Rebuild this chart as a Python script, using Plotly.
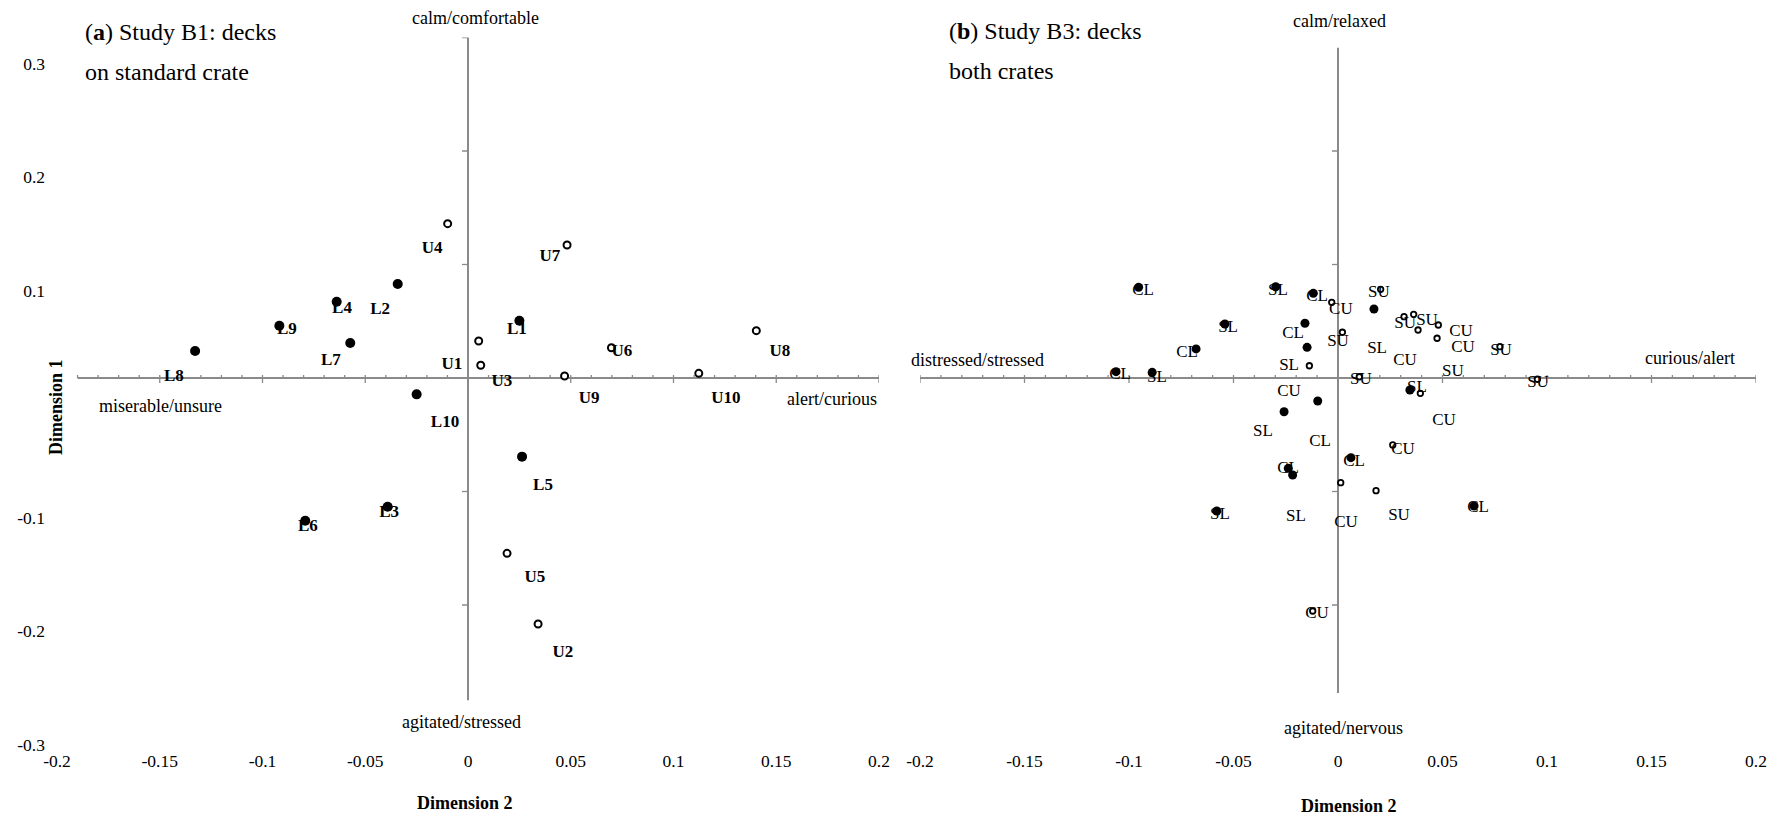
import plotly.graph_objects as go

W, H = 1783, 819

# ---------------- Panel (a): Study B1, decks on standard crate ----------------
a_low_names = ["L1", "L2", "L3", "L4", "L5", "L6", "L7", "L8", "L9", "L10"]
a_low_dim2 = [0.025, -0.0342, -0.0391, -0.0639, 0.0263, -0.0792, -0.0573, -0.1328, -0.0918, -0.025]
a_low_dim1 = [0.0505, 0.0828, -0.1134, 0.0672, -0.0693, -0.1257, 0.0308, 0.0238, 0.0461, -0.0144]
a_low_label_dim2 = [0.0238, -0.0428, -0.0384, -0.0613, 0.0365, -0.0779, -0.0667, -0.1431, -0.0881, -0.0112]
a_low_label_dim1 = [0.0423, 0.0599, -0.1189, 0.0608, -0.0952, -0.1313, 0.0150, 0.0009, 0.0423, -0.0396]

a_up_names = ["U1", "U2", "U3", "U4", "U5", "U6", "U7", "U8", "U9", "U10"]
a_up_dim2 = [0.0052, 0.0341, 0.0062, -0.0099, 0.019, 0.0698, 0.0482, 0.1403, 0.047, 0.1123]
a_up_dim1 = [0.0326, -0.2167, 0.0112, 0.136, -0.1545, 0.0267, 0.1172, 0.0417, 0.0018, 0.0041]
a_up_label_dim2 = [-0.0078, 0.0462, 0.0165, -0.0175, 0.0326, 0.0749, 0.0399, 0.1518, 0.0589, 0.1255]
a_up_label_dim1 = [0.0115, -0.2423, -0.0035, 0.1137, -0.1762, 0.0229, 0.1066, 0.0229, -0.0185, -0.0185]

# ---------------- Panel (b): Study B3, decks on both crates ----------------
b_low_dim2 = [-0.0954, -0.0298, -0.0118, -0.0541, -0.0158, -0.0679, -0.0148, -0.1062, -0.0889,
              0.0172, -0.0097, -0.0258, 0.0344, 0.0062, -0.0238, -0.0217, 0.0651, -0.0580]
b_low_dim1 = [0.0799, 0.0804, 0.0746, 0.0476, 0.0482, 0.0256, 0.0270, 0.0056, 0.0050,
              0.0608, -0.0203, -0.0297, -0.0106, -0.0702, -0.0796, -0.0855, -0.1128, -0.1172]
b_up_dim2 = [-0.0030, 0.0204, 0.0021, -0.0137, 0.0316, 0.0362, 0.0383, 0.0480, 0.0474,
             0.0775, 0.0102, 0.0954, 0.0394, 0.0262, 0.0013, 0.0182, -0.0121]
b_up_dim1 = [0.0667, 0.0781, 0.0403, 0.0108, 0.0540, 0.0561, 0.0423, 0.0467, 0.0350,
             0.0276, 0.0011, -0.0011, -0.0135, -0.0590, -0.0922, -0.0993, -0.2053]

b_label_text = ["CL", "CL", "CL", "CL", "CL", "CL", "CL", "CL", "CL",
                "SL", "SL", "SL", "SL", "SL", "SL", "SL", "SL", "SL",
                "CU", "CU", "CU", "CU", "CU", "CU", "CU", "CU", "CU",
                "SU", "SU", "SU", "SU", "SU", "SU", "SU", "SU", "SU"]
b_label_dim2 = [-0.0933, -0.0100, -0.0215, -0.0722, -0.1043, -0.0086, -0.0239, 0.0077, 0.0670,
                -0.0287, -0.0526, -0.0234, -0.0866, 0.0187, 0.0378, -0.0359, -0.0565, -0.0201,
                0.0014, 0.0589, 0.0598, 0.0321, -0.0234, 0.0507, 0.0311, 0.0038, -0.0100,
                0.0196, 0.0321, 0.0426, 0.0000, 0.0780, 0.0550, 0.0110, 0.0957, 0.0292]
b_label_dim1 = [0.0767, 0.0714, 0.0388, 0.0220, 0.0026, -0.0564, -0.0802, -0.0740, -0.1145,
                0.0767, 0.0441, 0.0106, 0.0000, 0.0256, -0.0088, -0.0476, -0.1207, -0.1225,
                0.0599, 0.0405, 0.0264, 0.0150, -0.0123, -0.0379, -0.0634, -0.1278, -0.2079,
                0.0749, 0.0476, 0.0502, 0.0317, 0.0238, 0.0053, -0.0018, -0.0044, -0.1216]

x_tick_vals = [-0.2, -0.15, -0.1, -0.05, 0, 0.05, 0.1, 0.15, 0.2]
x_tick_text = ["-0.2", "-0.15", "-0.1", "-0.05", "0", "0.05", "0.1", "0.15", "0.2"]
y_tick_vals = [0.3, 0.2, 0.1, -0.1, -0.2, -0.3]
y_tick_text = ["0.3", "0.2", "0.1", "-0.1", "-0.2", "-0.3"]

FONT = "Liberation Serif, Times New Roman, serif"
AXIS_GREY = "#8a8a8a"

fig = go.Figure()

# panel a markers
fig.add_trace(go.Scatter(x=a_low_dim2, y=a_low_dim1, mode="markers", xaxis="x", yaxis="y",
                         marker=dict(size=10, color="black"), showlegend=False, hoverinfo="skip",
                         cliponaxis=False))
fig.add_trace(go.Scatter(x=a_up_dim2, y=a_up_dim1, mode="markers", xaxis="x", yaxis="y",
                         marker=dict(size=7, color="white", line=dict(color="black", width=2)),
                         showlegend=False, hoverinfo="skip", cliponaxis=False))
fig.add_trace(go.Scatter(x=a_low_label_dim2 + a_up_label_dim2, y=a_low_label_dim1 + a_up_label_dim1,
                         text=[f"<b>{n}</b>" for n in a_low_names + a_up_names], mode="text",
                         xaxis="x", yaxis="y", textposition="middle center",
                         textfont=dict(family=FONT, size=17, color="black"),
                         showlegend=False, hoverinfo="skip", cliponaxis=False))

# panel b markers
fig.add_trace(go.Scatter(x=b_low_dim2, y=b_low_dim1, mode="markers", xaxis="x2", yaxis="y2",
                         marker=dict(size=9, color="black"), showlegend=False, hoverinfo="skip",
                         cliponaxis=False))
fig.add_trace(go.Scatter(x=b_up_dim2, y=b_up_dim1, mode="markers", xaxis="x2", yaxis="y2",
                         marker=dict(size=5.5, color="white", line=dict(color="black", width=1.8)),
                         showlegend=False, hoverinfo="skip", cliponaxis=False))
fig.add_trace(go.Scatter(x=b_label_dim2, y=b_label_dim1, text=b_label_text, mode="text",
                         xaxis="x2", yaxis="y2", textposition="middle center",
                         textfont=dict(family=FONT, size=17, color="black"),
                         showlegend=False, hoverinfo="skip", cliponaxis=False))

# cross axes (decoration) drawn as shapes
shapes = []


def cross_axes(xr, yr, hx0, hx1, vy0, vy1, top_tick):
    shapes.append(dict(type="line", xref=xr, yref=yr, x0=hx0, x1=hx1, y0=0, y1=0,
                       line=dict(color=AXIS_GREY, width=2), layer="below"))
    shapes.append(dict(type="line", xref=xr, yref=yr, x0=0, x1=0, y0=vy0, y1=vy1,
                       line=dict(color=AXIS_GREY, width=2), layer="below"))
    for i in range(-20, 21):
        t = i / 100
        if t < hx0 - 1e-9 or t > hx1 + 1e-9 or i == 0:
            continue
        major = i % 5 == 0
        shapes.append(dict(type="line", xref=xr, yref=yr, ysizemode="pixel", yanchor=0,
                           x0=t, x1=t, y0=(-5 if major else 0), y1=3,
                           line=dict(color=AXIS_GREY, width=1.3), layer="below"))
    for i in range(-3, 4):
        t = i / 10
        if i == 0 or t < vy0 - 1e-9 or t > vy1 + 1e-9:
            continue
        if i == 3 and not top_tick:
            continue
        shapes.append(dict(type="line", xref=xr, yref=yr, xsizemode="pixel", xanchor=0,
                           x0=-6, x1=0, y0=t, y1=t,
                           line=dict(color=AXIS_GREY, width=1.3), layer="below"))


cross_axes("x", "y", -0.19, 0.2, -0.284, 0.3, True)
cross_axes("x2", "y2", -0.2, 0.2, -0.2775, 0.291, False)


def px_note(text, px, py, size=18, anchor="center", angle=0):
    return dict(text=text, xref="paper", yref="paper", x=px / W, y=1 - py / H,
                xanchor=anchor, yanchor="middle", showarrow=False, textangle=angle,
                font=dict(family=FONT, size=size, color="black"))


annotations = [
    px_note("calm/comfortable", 475, 18),
    px_note("miserable/unsure", 160, 406),
    px_note("alert/curious", 832, 399),
    px_note("agitated/stressed", 462, 722),
    px_note("calm/relaxed", 1339, 21),
    px_note("distressed/stressed", 978, 360),
    px_note("curious/alert", 1690, 358),
    px_note("agitated/nervous", 1343, 728),
    px_note("<b>Dimension 1</b>", 56, 407, angle=-90),
    px_note("<b>Dimension 2</b>", 465, 803),
    px_note("<b>Dimension 2</b>", 1349, 806),
    px_note("(<b>a</b>) Study B1: decks", 83, 32, size=24, anchor="left"),
    px_note("on standard crate", 83, 72, size=24, anchor="left"),
    px_note("(<b>b</b>) Study B3: decks", 947, 31, size=24, anchor="left"),
    px_note("both crates", 947, 71, size=24, anchor="left"),
]

y_dom = [1 - 718.5 / H, 1 - 37.5 / H]
common_x = dict(range=[-0.2, 0.2], showgrid=False, zeroline=False, showline=False,
                tickmode="array", tickvals=x_tick_vals, ticktext=x_tick_text, ticks="",
                ticklabelstandoff=30, tickfont=dict(family=FONT, size=17.5, color="black"),
                fixedrange=True, automargin=False)

fig.update_layout(
    width=W, height=H,
    margin=dict(l=0, r=0, t=0, b=0, pad=0, autoexpand=False),
    paper_bgcolor="white", plot_bgcolor="rgba(0,0,0,0)",
    showlegend=False,
    xaxis=dict(domain=[57 / W, 879 / W], anchor="y", **common_x),
    xaxis2=dict(domain=[920 / W, 1756 / W], anchor="y2", **common_x),
    yaxis=dict(domain=y_dom, anchor="x", range=[-0.3, 0.3], showgrid=False, zeroline=False,
               showline=False, tickmode="array", tickvals=y_tick_vals, ticktext=y_tick_text,
               ticks="", ticklabelshift=26, ticklabelstandoff=11, automargin=False,
               tickfont=dict(family=FONT, size=17.5, color="black"), fixedrange=True),
    yaxis2=dict(domain=y_dom, anchor="x2", range=[-0.3, 0.3], showgrid=False, zeroline=False,
                showline=False, showticklabels=False, ticks="", fixedrange=True,
                automargin=False),
    shapes=shapes,
    annotations=annotations,
)

fig.write_html(
    "out.html",
    config={"displayModeBar": False, "staticPlot": False},
    post_script="document.body.style.margin='0';document.body.style.padding='0';"
                "document.body.style.overflow='hidden';",
)
